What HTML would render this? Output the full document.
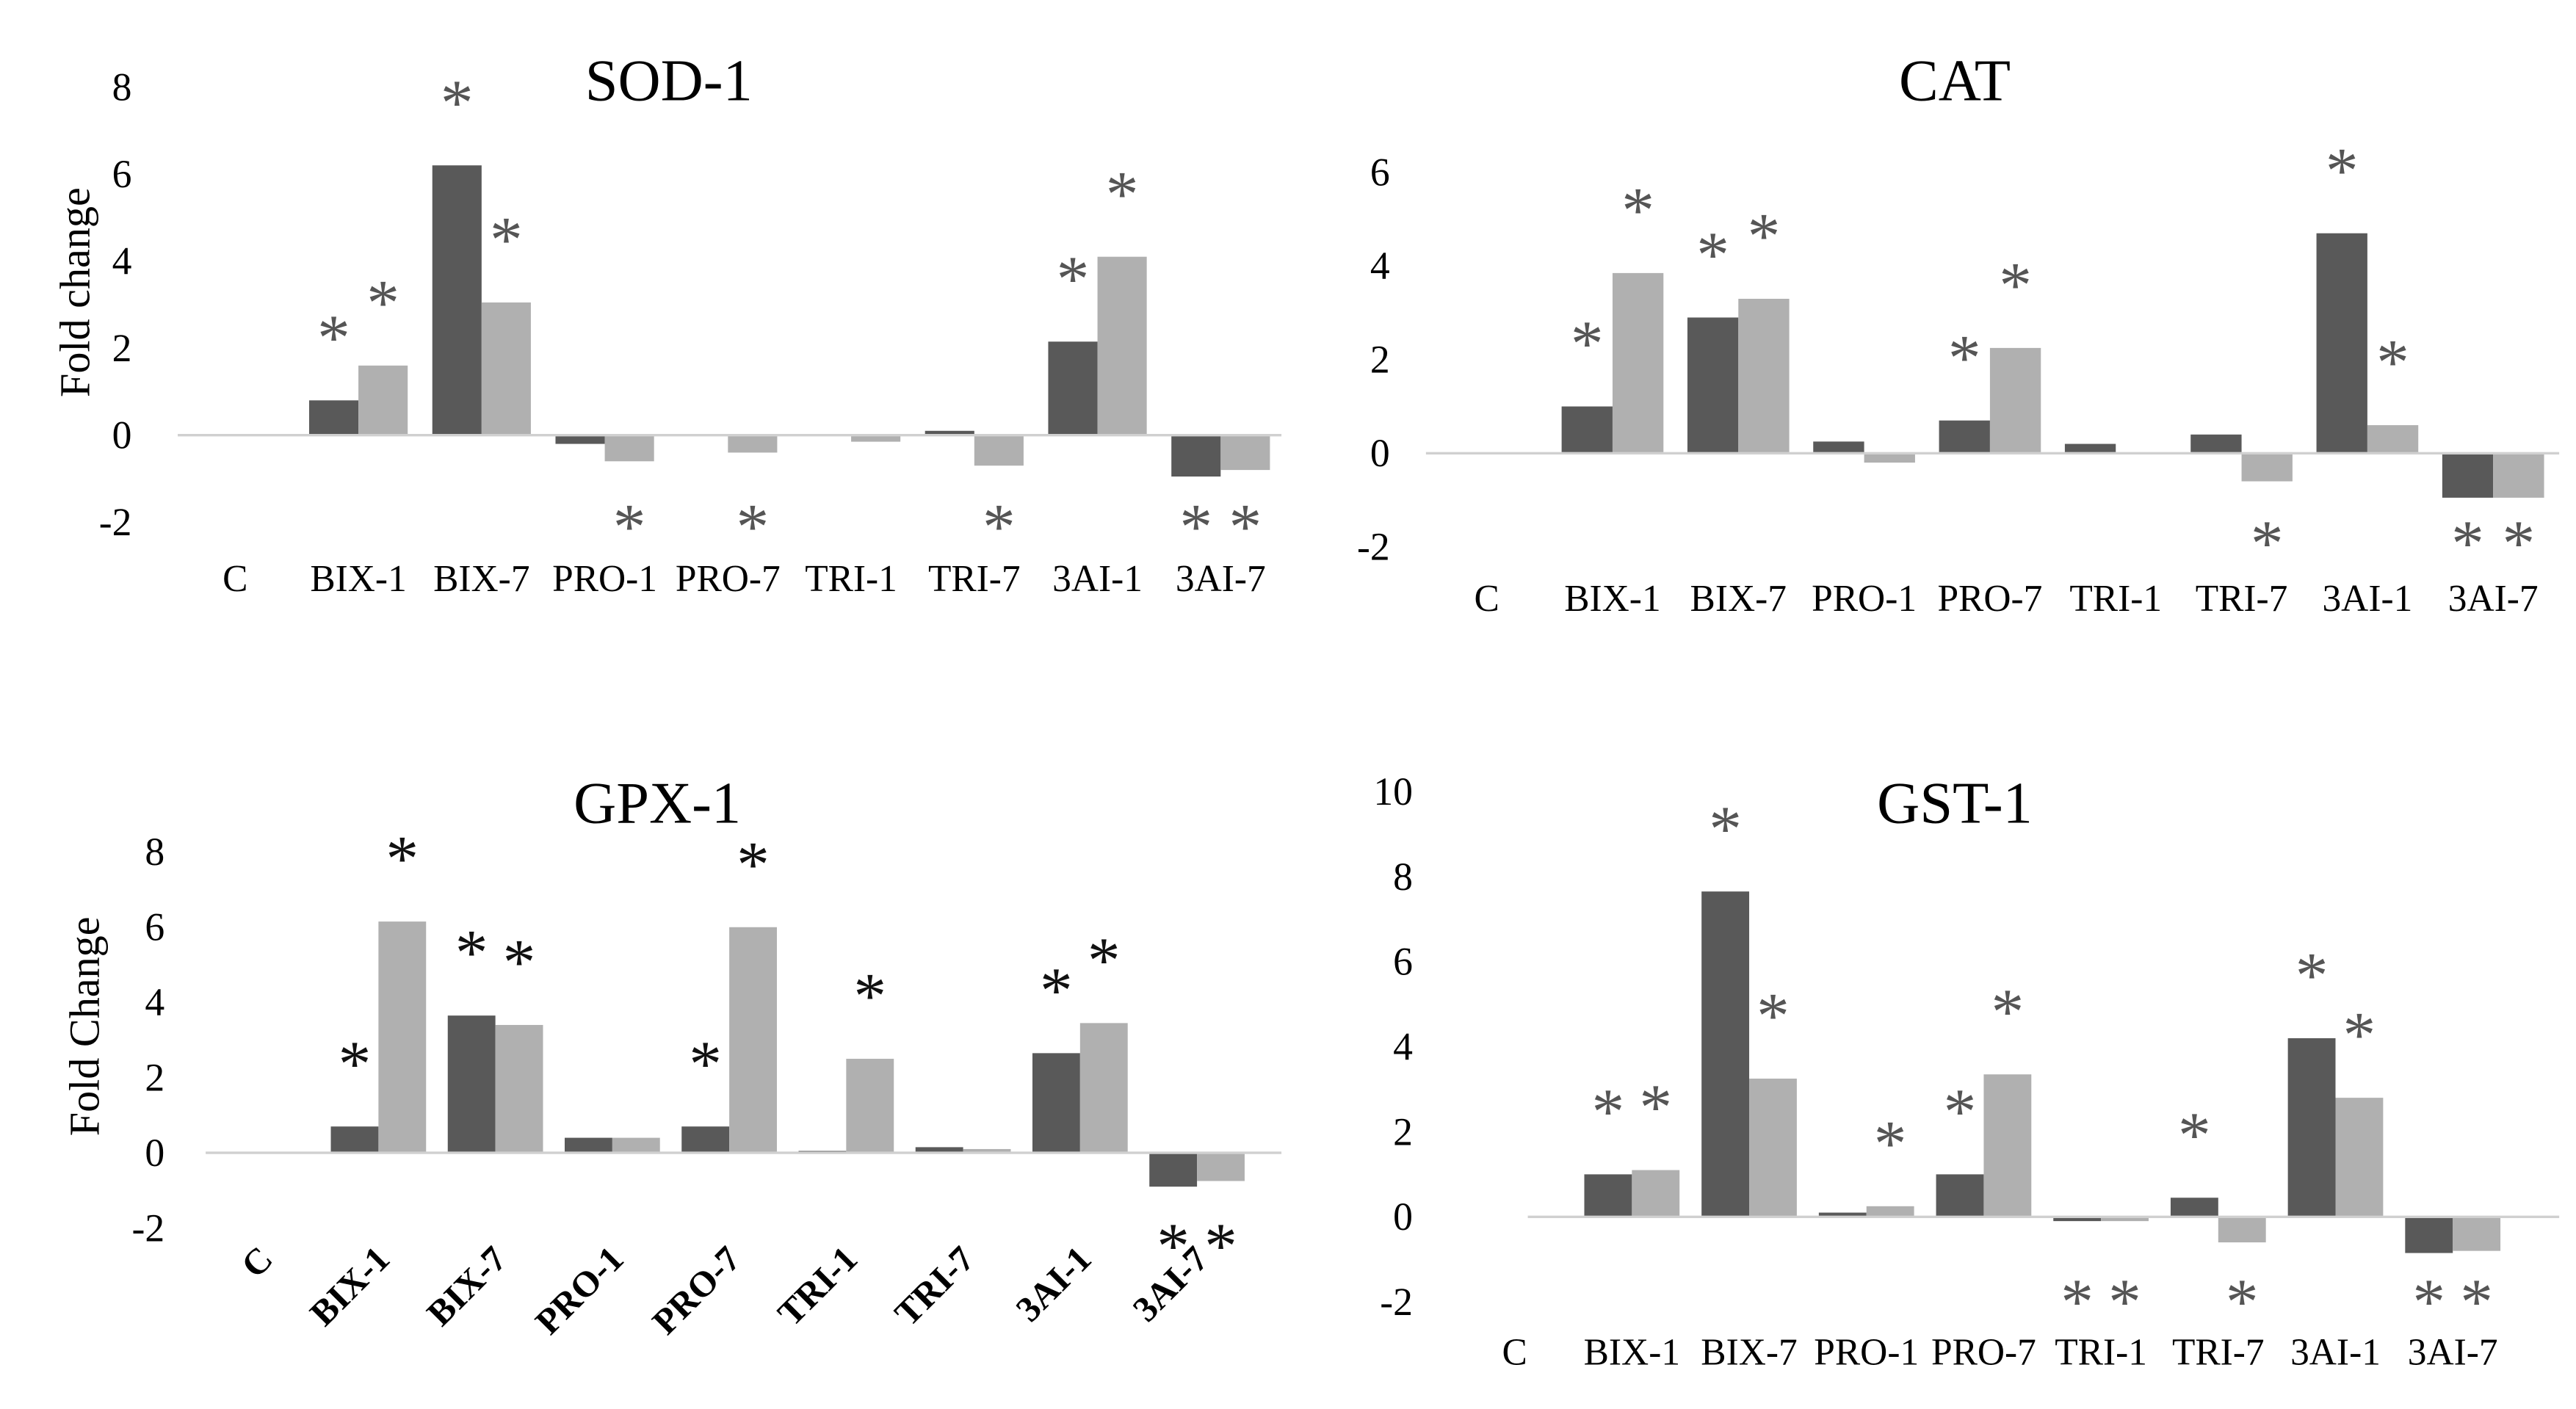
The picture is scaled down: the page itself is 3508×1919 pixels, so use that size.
<!DOCTYPE html>
<html><head><meta charset="utf-8"><style>
html,body{margin:0;padding:0;background:#fff;}
svg{display:block;font-family:"Liberation Serif",serif;}
</style></head><body>
<svg id="s" width="3508" height="1919" viewBox="0 0 1568 858"></svg>
<script>
const categories=["C","BIX-1","BIX-7","PRO-1","PRO-7","TRI-1","TRI-7","3AI-1","3AI-7"];
const sodDark=[0,0.8,6.2,-0.2,0,0,0.1,2.15,-0.95];
const sodLight=[0,1.6,3.05,-0.6,-0.4,-0.15,-0.7,4.1,-0.8];
const sodStarDark=["","u","u","","","","","u","d"];
const sodStarLight=["","u","u","d","d","","d","u","d"];
const catDark=[0,1.0,2.9,0.25,0.7,0.2,0.4,4.7,-0.95];
const catLight=[0,3.85,3.3,-0.2,2.25,0,-0.6,0.6,-0.95];
const catStarDark=["","u","u","","u","","","u","d"];
const catStarLight=["","u","u","","u","","d","u","d"];
const gpxDark=[0,0.7,3.65,0.4,0.7,0.05,0.15,2.65,-0.9];
const gpxLight=[0,6.15,3.4,0.4,6.0,2.5,0.1,3.45,-0.75];
const gpxStarDark=["","u","u","","u","","","u","d"];
const gpxStarLight=["","u","u","","u","u","","u","d"];
const gstDark=[0,1.0,7.65,0.1,1.0,-0.1,0.45,4.2,-0.85];
const gstLight=[0,1.1,3.25,0.25,3.35,-0.1,-0.6,2.8,-0.8];
const gstStarDark=["","u","u","","u","d","u","u","d"];
const gstStarLight=["","u","u","u","u","d","d","u","d"];
const sodTicks=[8,6,4,2,0,-2];
const catTicks=[6,4,2,0,-2];
const gpxTicks=[8,6,4,2,0,-2];
const gstTicks=[10,8,6,4,2,0,-2];

const svg=document.getElementById('s');
const NS='http://www.w3.org/2000/svg';
function mk(tag,attrs,parent,text){const e=document.createElementNS(NS,tag);for(const k in attrs)e.setAttribute(k,attrs[k]);if(text!==undefined)e.textContent=text;(parent||svg).appendChild(e);return e;}

function panel(p){
  const g=mk('g',{});
  
  
  const y=v=>p.y0-v*p.unit;
  const x=i=>p.x0+i*p.step;
  const t=mk('text',{x:p.titleX,y:p.titleY,'font-size':36,'text-anchor':'middle'},g,p.title);
  
  
  p.ticks.forEach(v=>{
    const tl=mk('text',{x:p.tickX,y:y(v)+8,'font-size':24,'text-anchor':'end'},g,String(v));
    
    
  });
  if(p.yTitle){
    const yt=mk('text',{x:0,y:0,'font-size':26,'text-anchor':'middle',transform:`translate(${p.yTitleX},${p.yTitleY}) rotate(-90)`},g,p.yTitle);
    
    
  }
  const bw=p.bw;
  categories.forEach((c,i)=>{
    const cx=x(i);
    [[p.dark,'#595959',-1,p.sd],[p.light,'#b0b0b0',0,p.sl]].forEach(([arr,col,off,st],k)=>{
      const v=arr[i];
      const bx=cx+off*bw;
      if(v!==0){
        const r=mk('rect',{x:bx,y:Math.min(y(v),y(0)),width:bw,height:Math.abs(y(v)-y(0)),fill:col},g);
        
        
      }
      if(st[i]){
        const sy=st[i]==='u'?Math.min(y(v),y(0))-47:p.downY;
        const s=mk('text',{x:bx+bw/2,y:sy+22,'font-size':40,'text-anchor':'middle',fill:p.starCol},g,'*');
        
        
      }
    });
    let lab;
    if(p.rot){
      lab=mk('text',{x:0,y:0,'font-size':22,'font-weight':'bold','text-anchor':'end',transform:`translate(${cx+8},${p.labelY}) rotate(-45)`},g,c);
    } else {
      lab=mk('text',{x:cx,y:p.labelY,'font-size':23,'text-anchor':'middle'},g,c);
    }
    
    
  });
  const ax=mk('line',{x1:p.ax1,x2:p.ax2,y1:y(0),y2:y(0),stroke:'#d0d0d0','stroke-width':1.5},g);
  
  
}
panel({id:'sod',title:'SOD-1',titleX:407,titleY:61,x0:219-76,step:75,bw:30,y0:265,unit:26.5,ticks:sodTicks,tickX:80,dark:sodDark,light:sodLight,sd:sodStarDark,sl:sodStarLight,downY:312,labelY:360,ax1:108,ax2:780,starCol:'#555',yTitle:'Fold change',yTitleX:54,yTitleY:178});
panel({id:'cat',title:'CAT',titleX:1190,titleY:61,x0:905,step:76.6,bw:31,y0:276,unit:28.5,ticks:catTicks,tickX:846,dark:catDark,light:catLight,sd:catStarDark,sl:catStarLight,downY:322,labelY:372,ax1:868,ax2:1558,starCol:'#555'});
panel({id:'gpx',title:'GPX-1',titleX:400,titleY:501,x0:159,step:71.2,bw:29,y0:702,unit:22.9,ticks:gpxTicks,tickX:100,dark:gpxDark,light:gpxLight,sd:gpxStarDark,sl:gpxStarLight,downY:750,labelY:768,ax1:125,ax2:780,starCol:'#111',yTitle:'Fold Change',yTitleX:60,yTitleY:625,rot:true});
panel({id:'gst',title:'GST-1',titleX:1190,titleY:501,x0:922,step:71.4,bw:29,y0:741,unit:25.9,ticks:gstTicks,tickX:860,dark:gstDark,light:gstLight,sd:gstStarDark,sl:gstStarLight,downY:784,labelY:831,ax1:930,ax2:1558,starCol:'#555'});
</script>
</body></html>
